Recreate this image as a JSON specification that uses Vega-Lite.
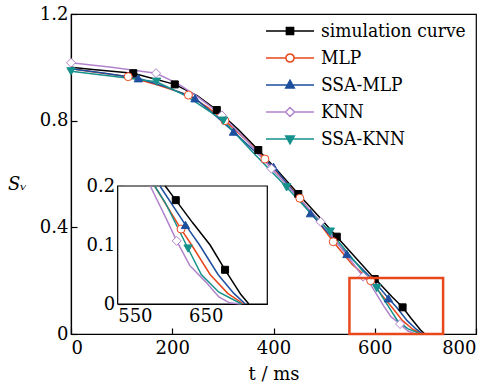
{
  "$schema": "https://vega.github.io/schema/vega-lite/v6.json",
  "width": 405,
  "height": 320,
  "autosize": {"type": "none"},
  "padding": {"left": 71, "top": 14, "right": 16, "bottom": 52},
  "config": {
    "font": "DejaVu Serif",
    "view": {"stroke": "black", "strokeWidth": 1.2},
    "axis": {
      "grid": false, "domainColor": "black", "tickColor": "black", "labelColor": "black", "titleColor": "black",
      "labelFont": "DejaVu Serif", "titleFont": "DejaVu Serif", "labelFontSize": 18, "titleFontSize": 18,
      "titleFontWeight": "normal", "tickSize": -6, "domainWidth": 1.2, "tickWidth": 1.2, "zindex": 1, "labelPadding": 9
    },
    "legend": {
      "orient": "none", "legendX": 194, "legendY": 7, "labelFont": "DejaVu Serif Condensed", "labelFontSize": 19,
      "labelColor": "black", "symbolSize": 2304, "clipHeight": 20, "rowPadding": 7, "labelOffset": 6, "padding": 0,
      "symbolStrokeWidth": 1.5
    }
  },
  "datasets": {
    "lines": [
      {"series": "simulation curve", "t": 0, "sv": 1.0}, {"series": "simulation curve", "t": 43, "sv": 0.992},
      {"series": "simulation curve", "t": 123, "sv": 0.978}, {"series": "simulation curve", "t": 205, "sv": 0.936},
      {"series": "simulation curve", "t": 250, "sv": 0.893}, {"series": "simulation curve", "t": 288, "sv": 0.84},
      {"series": "simulation curve", "t": 330, "sv": 0.768}, {"series": "simulation curve", "t": 370, "sv": 0.69},
      {"series": "simulation curve", "t": 410, "sv": 0.608}, {"series": "simulation curve", "t": 449, "sv": 0.525},
      {"series": "simulation curve", "t": 490, "sv": 0.44}, {"series": "simulation curve", "t": 525, "sv": 0.365},
      {"series": "simulation curve", "t": 565, "sv": 0.28}, {"series": "simulation curve", "t": 600, "sv": 0.206},
      {"series": "simulation curve", "t": 604, "sv": 0.2}, {"series": "simulation curve", "t": 616, "sv": 0.176},
      {"series": "simulation curve", "t": 635, "sv": 0.138}, {"series": "simulation curve", "t": 655, "sv": 0.1},
      {"series": "simulation curve", "t": 672, "sv": 0.058}, {"series": "simulation curve", "t": 690, "sv": 0.016},
      {"series": "simulation curve", "t": 699, "sv": 0},
      {"series": "MLP", "t": 0, "sv": 0.995}, {"series": "MLP", "t": 113, "sv": 0.965}, {"series": "MLP", "t": 170, "sv": 0.935},
      {"series": "MLP", "t": 232, "sv": 0.896}, {"series": "MLP", "t": 270, "sv": 0.85}, {"series": "MLP", "t": 304, "sv": 0.8},
      {"series": "MLP", "t": 345, "sv": 0.73}, {"series": "MLP", "t": 383, "sv": 0.656}, {"series": "MLP", "t": 420, "sv": 0.58},
      {"series": "MLP", "t": 452, "sv": 0.509}, {"series": "MLP", "t": 485, "sv": 0.43}, {"series": "MLP", "t": 518, "sv": 0.346},
      {"series": "MLP", "t": 555, "sv": 0.262}, {"series": "MLP", "t": 592, "sv": 0.2}, {"series": "MLP", "t": 622, "sv": 0.127},
      {"series": "MLP", "t": 634, "sv": 0.1}, {"series": "MLP", "t": 655, "sv": 0.05}, {"series": "MLP", "t": 675, "sv": 0.018},
      {"series": "MLP", "t": 693, "sv": 0},
      {"series": "SSA-MLP", "t": 0, "sv": 0.995}, {"series": "SSA-MLP", "t": 60, "sv": 0.98}, {"series": "SSA-MLP", "t": 133, "sv": 0.959},
      {"series": "SSA-MLP", "t": 190, "sv": 0.925}, {"series": "SSA-MLP", "t": 245, "sv": 0.884}, {"series": "SSA-MLP", "t": 285, "sv": 0.82},
      {"series": "SSA-MLP", "t": 321, "sv": 0.759}, {"series": "SSA-MLP", "t": 360, "sv": 0.69}, {"series": "SSA-MLP", "t": 400, "sv": 0.627},
      {"series": "SSA-MLP", "t": 437, "sv": 0.54}, {"series": "SSA-MLP", "t": 473, "sv": 0.453}, {"series": "SSA-MLP", "t": 510, "sv": 0.375},
      {"series": "SSA-MLP", "t": 545, "sv": 0.3}, {"series": "SSA-MLP", "t": 575, "sv": 0.245}, {"series": "SSA-MLP", "t": 598, "sv": 0.2},
      {"series": "SSA-MLP", "t": 627, "sv": 0.134}, {"series": "SSA-MLP", "t": 643, "sv": 0.1}, {"series": "SSA-MLP", "t": 664, "sv": 0.05},
      {"series": "SSA-MLP", "t": 682, "sv": 0.018}, {"series": "SSA-MLP", "t": 695, "sv": 0},
      {"series": "KNN", "t": 0, "sv": 1.017}, {"series": "KNN", "t": 80, "sv": 1.0}, {"series": "KNN", "t": 168, "sv": 0.978},
      {"series": "KNN", "t": 210, "sv": 0.94}, {"series": "KNN", "t": 250, "sv": 0.89}, {"series": "KNN", "t": 298, "sv": 0.82},
      {"series": "KNN", "t": 350, "sv": 0.72}, {"series": "KNN", "t": 396, "sv": 0.62}, {"series": "KNN", "t": 445, "sv": 0.52},
      {"series": "KNN", "t": 493, "sv": 0.421}, {"series": "KNN", "t": 535, "sv": 0.32}, {"series": "KNN", "t": 577, "sv": 0.215},
      {"series": "KNN", "t": 587, "sv": 0.2}, {"series": "KNN", "t": 605, "sv": 0.145}, {"series": "KNN", "t": 617, "sv": 0.107},
      {"series": "KNN", "t": 632, "sv": 0.065}, {"series": "KNN", "t": 650, "sv": 0.0375}, {"series": "KNN", "t": 665, "sv": 0.012},
      {"series": "KNN", "t": 677, "sv": 0.002}, {"series": "KNN", "t": 690, "sv": 0},
      {"series": "SSA-KNN", "t": 0, "sv": 0.985}, {"series": "SSA-KNN", "t": 90, "sv": 0.965}, {"series": "SSA-KNN", "t": 169, "sv": 0.946},
      {"series": "SSA-KNN", "t": 230, "sv": 0.89}, {"series": "SSA-KNN", "t": 301, "sv": 0.8}, {"series": "SSA-KNN", "t": 360, "sv": 0.68},
      {"series": "SSA-KNN", "t": 426, "sv": 0.55}, {"series": "SSA-KNN", "t": 470, "sv": 0.46}, {"series": "SSA-KNN", "t": 512, "sv": 0.384},
      {"series": "SSA-KNN", "t": 555, "sv": 0.285}, {"series": "SSA-KNN", "t": 592, "sv": 0.2}, {"series": "SSA-KNN", "t": 604, "sv": 0.172},
      {"series": "SSA-KNN", "t": 630, "sv": 0.094}, {"series": "SSA-KNN", "t": 645, "sv": 0.05}, {"series": "SSA-KNN", "t": 665, "sv": 0.02},
      {"series": "SSA-KNN", "t": 691, "sv": 0}
    ],
    "markers": [
      {"series": "simulation curve", "t": 123, "sv": 0.978}, {"series": "simulation curve", "t": 205, "sv": 0.936},
      {"series": "simulation curve", "t": 288, "sv": 0.84}, {"series": "simulation curve", "t": 370, "sv": 0.69},
      {"series": "simulation curve", "t": 449, "sv": 0.525}, {"series": "simulation curve", "t": 525, "sv": 0.365},
      {"series": "simulation curve", "t": 600, "sv": 0.206}, {"series": "simulation curve", "t": 655, "sv": 0.1},
      {"series": "MLP", "t": 113, "sv": 0.965}, {"series": "MLP", "t": 232, "sv": 0.896}, {"series": "MLP", "t": 304, "sv": 0.8},
      {"series": "MLP", "t": 383, "sv": 0.656}, {"series": "MLP", "t": 452, "sv": 0.509}, {"series": "MLP", "t": 518, "sv": 0.346},
      {"series": "MLP", "t": 592, "sv": 0.2},
      {"series": "SSA-MLP", "t": 133, "sv": 0.959}, {"series": "SSA-MLP", "t": 245, "sv": 0.884}, {"series": "SSA-MLP", "t": 321, "sv": 0.759},
      {"series": "SSA-MLP", "t": 400, "sv": 0.627}, {"series": "SSA-MLP", "t": 473, "sv": 0.453}, {"series": "SSA-MLP", "t": 545, "sv": 0.3},
      {"series": "SSA-MLP", "t": 627, "sv": 0.134},
      {"series": "KNN", "t": 0, "sv": 1.017}, {"series": "KNN", "t": 168, "sv": 0.978}, {"series": "KNN", "t": 298, "sv": 0.82},
      {"series": "KNN", "t": 396, "sv": 0.62}, {"series": "KNN", "t": 493, "sv": 0.421}, {"series": "KNN", "t": 577, "sv": 0.215},
      {"series": "KNN", "t": 650, "sv": 0.0375},
      {"series": "SSA-KNN", "t": 0, "sv": 0.985}, {"series": "SSA-KNN", "t": 169, "sv": 0.946}, {"series": "SSA-KNN", "t": 301, "sv": 0.8},
      {"series": "SSA-KNN", "t": 426, "sv": 0.55}, {"series": "SSA-KNN", "t": 512, "sv": 0.384}, {"series": "SSA-KNN", "t": 604, "sv": 0.172}
    ],
    "insetMarkers": [
      {"series": "simulation curve", "t": 616, "sv": 0.176}, {"series": "simulation curve", "t": 672, "sv": 0.058},
      {"series": "MLP", "t": 622, "sv": 0.127},
      {"series": "SSA-MLP", "t": 627, "sv": 0.134},
      {"series": "KNN", "t": 617, "sv": 0.107},
      {"series": "SSA-KNN", "t": 630, "sv": 0.094}
    ]
  },
  "layer": [
    {
      "layer": [
        {
          "data": {"name": "lines"},
          "mark": {"type": "line", "strokeWidth": 1.5},
          "encoding": {
            "x": {"field": "t", "type": "quantitative", "scale": {"domain": [0, 800], "nice": false, "zero": false},
                  "axis": {"values": [0, 200, 400, 600, 800], "title": "t / ms", "labelPadding": 11, "titlePadding": 8}},
            "y": {"field": "sv", "type": "quantitative", "scale": {"domain": [0, 1.2], "nice": false},
                  "axis": {"values": [0, 0.4, 0.8, 1.2], "labelExpr": "datum.value == 0 ? '0' : format(datum.value, '.1f')",
                           "title": "Sᵥ", "titleAngle": 0, "titleX": -54, "titleY": 170, "titleAlign": "center", "titleBaseline": "middle", "titleFontStyle": "italic"}},
            "color": {"field": "series", "type": "nominal",
                      "scale": {"domain": ["simulation curve", "MLP", "SSA-MLP", "KNN", "SSA-KNN"],
                                "range": ["#000000", "#e8481c", "#1d4f9e", "#b183cc", "#16918c"]},
                      "legend": {"title": null,
                        "encode": {"symbols": {"update": {
                          "shape": {"signal": "datum.value === 'simulation curve' ? 'M-1,0H1M-0.15,-0.15H0.15V0.15H-0.15Z' : datum.value === 'MLP' ? 'M-1,0H-0.17M0.17,0H1M0.17,0A0.17,0.17,0,1,1,-0.17,0A0.17,0.17,0,1,1,0.17,0Z' : datum.value === 'SSA-MLP' ? 'M-1,0H1M0,-0.2L0.18,0.12H-0.18Z' : datum.value === 'KNN' ? 'M-1,0H-0.19M0.19,0H1M0,-0.19L0.19,0L0,0.19L-0.19,0Z' : 'M-1,0H1M0,0.2L0.18,-0.12H-0.18Z'"},
                          "fill": {"signal": "datum.value === 'MLP' || datum.value === 'KNN' ? '#ffffff' : datum.value === 'simulation curve' ? '#000000' : datum.value === 'SSA-MLP' ? '#1d4f9e' : '#16918c'"},
                          "stroke": {"signal": "datum.value === 'simulation curve' ? '#000000' : datum.value === 'MLP' ? '#e8481c' : datum.value === 'SSA-MLP' ? '#1d4f9e' : datum.value === 'KNN' ? '#b183cc' : '#16918c'"},
                          "strokeWidth": {"value": 1.5},
                          "size": {"value": 2304},
                          "opacity": {"value": 1}
                        }}}}}
          }
        },
        {
          "data": {"name": "markers"},
          "transform": [{"filter": "datum.series === 'simulation curve'"}],
          "mark": {"type": "point", "shape": "square", "filled": true, "fill": "#000000", "stroke": "#000000", "strokeWidth": 1, "size": 49, "opacity": 1},
          "encoding": {"x": {"field": "t", "type": "quantitative"}, "y": {"field": "sv", "type": "quantitative"}}
        },
        {
          "data": {"name": "markers"},
          "transform": [{"filter": "datum.series === 'MLP'"}],
          "mark": {"type": "point", "shape": "circle", "filled": true, "fill": "#ffffff", "stroke": "#e8481c", "strokeWidth": 1, "size": 64, "opacity": 1},
          "encoding": {"x": {"field": "t", "type": "quantitative"}, "y": {"field": "sv", "type": "quantitative"}}
        },
        {
          "data": {"name": "markers"},
          "transform": [{"filter": "datum.series === 'SSA-MLP'"}],
          "mark": {"type": "point", "shape": "triangle-up", "filled": true, "fill": "#1d4f9e", "stroke": "#1d4f9e", "strokeWidth": 1, "size": 70, "opacity": 1},
          "encoding": {"x": {"field": "t", "type": "quantitative"}, "y": {"field": "sv", "type": "quantitative"}}
        },
        {
          "data": {"name": "markers"},
          "transform": [{"filter": "datum.series === 'KNN'"}],
          "mark": {"type": "point", "shape": "diamond", "filled": true, "fill": "#ffffff", "stroke": "#b183cc", "strokeWidth": 1, "size": 81, "opacity": 1},
          "encoding": {"x": {"field": "t", "type": "quantitative"}, "y": {"field": "sv", "type": "quantitative"}}
        },
        {
          "data": {"name": "markers"},
          "transform": [{"filter": "datum.series === 'SSA-KNN'"}],
          "mark": {"type": "point", "shape": "triangle-down", "filled": true, "fill": "#16918c", "stroke": "#16918c", "strokeWidth": 1, "size": 70, "opacity": 1},
          "encoding": {"x": {"field": "t", "type": "quantitative"}, "y": {"field": "sv", "type": "quantitative"}}
        },
        {
          "data": {"values": [{}]},
          "mark": {"type": "rect", "filled": false, "stroke": "#e8481c", "strokeWidth": 2.5},
          "encoding": {
            "x": {"datum": 550, "type": "quantitative"},
            "x2": {"datum": 735},
            "y": {"datum": 0, "type": "quantitative"},
            "y2": {"datum": 0.21}
          }
        }
      ]
    },
    {
      "layer": [
        {
          "data": {"values": [{}]},
          "mark": {"type": "rect", "fill": "#ffffff", "stroke": "black", "strokeWidth": 1.2},
          "encoding": {
            "x": {"datum": 550, "type": "quantitative", "scale": {"domain": [550, 720], "range": [46.7, 196.3], "nice": false, "zero": false},
                  "axis": {"orient": "bottom", "offset": -30, "values": [550, 600, 650, 700], "labelExpr": "datum.value == 550 || datum.value == 650 ? datum.label : ''", "title": null}},
            "x2": {"datum": 720},
            "y": {"datum": 0, "type": "quantitative", "scale": {"domain": [0, 0.2], "range": [290, 172], "nice": false},
                  "axis": {"orient": "left", "offset": -46.7, "values": [0, 0.1, 0.2], "labelExpr": "datum.value == 0 ? '0' : format(datum.value, '.1f')", "title": null}},
            "y2": {"datum": 0.2}
          }
        },
        {
          "data": {"name": "lines"},
          "transform": [{"filter": "datum.sv <= 0.2"}],
          "mark": {"type": "line", "strokeWidth": 1.5},
          "encoding": {
            "x": {"field": "t", "type": "quantitative"},
            "y": {"field": "sv", "type": "quantitative"},
            "color": {"field": "series", "type": "nominal"}
          }
        },
        {
          "data": {"name": "insetMarkers"},
          "transform": [{"filter": "datum.series === 'simulation curve'"}],
          "mark": {"type": "point", "shape": "square", "filled": true, "fill": "#000000", "stroke": "#000000", "strokeWidth": 1, "size": 49, "opacity": 1},
          "encoding": {"x": {"field": "t", "type": "quantitative"}, "y": {"field": "sv", "type": "quantitative"}}
        },
        {
          "data": {"name": "insetMarkers"},
          "transform": [{"filter": "datum.series === 'MLP'"}],
          "mark": {"type": "point", "shape": "circle", "filled": true, "fill": "#ffffff", "stroke": "#e8481c", "strokeWidth": 1, "size": 64, "opacity": 1},
          "encoding": {"x": {"field": "t", "type": "quantitative"}, "y": {"field": "sv", "type": "quantitative"}}
        },
        {
          "data": {"name": "insetMarkers"},
          "transform": [{"filter": "datum.series === 'SSA-MLP'"}],
          "mark": {"type": "point", "shape": "triangle-up", "filled": true, "fill": "#1d4f9e", "stroke": "#1d4f9e", "strokeWidth": 1, "size": 70, "opacity": 1},
          "encoding": {"x": {"field": "t", "type": "quantitative"}, "y": {"field": "sv", "type": "quantitative"}}
        },
        {
          "data": {"name": "insetMarkers"},
          "transform": [{"filter": "datum.series === 'KNN'"}],
          "mark": {"type": "point", "shape": "diamond", "filled": true, "fill": "#ffffff", "stroke": "#b183cc", "strokeWidth": 1, "size": 81, "opacity": 1},
          "encoding": {"x": {"field": "t", "type": "quantitative"}, "y": {"field": "sv", "type": "quantitative"}}
        },
        {
          "data": {"name": "insetMarkers"},
          "transform": [{"filter": "datum.series === 'SSA-KNN'"}],
          "mark": {"type": "point", "shape": "triangle-down", "filled": true, "fill": "#16918c", "stroke": "#16918c", "strokeWidth": 1, "size": 70, "opacity": 1},
          "encoding": {"x": {"field": "t", "type": "quantitative"}, "y": {"field": "sv", "type": "quantitative"}}
        }
      ]
    }
  ],
  "resolve": {"scale": {"x": "independent", "y": "independent"}, "axis": {"x": "independent", "y": "independent"}}
}
